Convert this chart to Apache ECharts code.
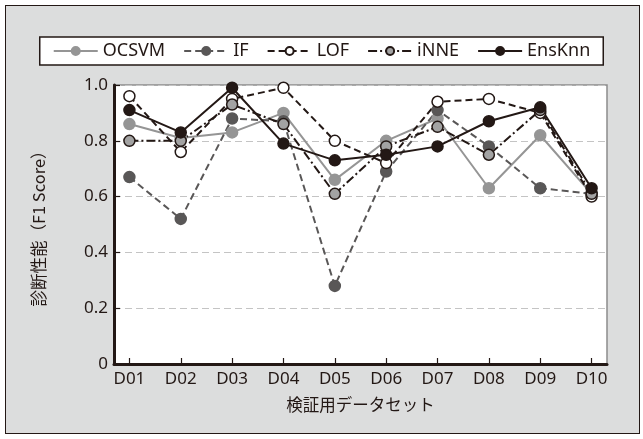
<!DOCTYPE html>
<html>
<head>
<meta charset="utf-8">
<script src="https://cdn.jsdelivr.net/npm/echarts@6/dist/echarts.min.js"></script>
<style>
  html, body { margin: 0; padding: 0; background: #ffffff; }
  .frame {
    position: absolute; left: 5px; top: 5px;
    width: 633px; height: 427px;
    border: 1.5px solid #231815; background: #dcdddd;
  }
  #chart { position: absolute; left: 0; top: 0; width: 643px; height: 439px; }
</style>
</head>
<body>
<div class="frame"></div>
<div id="chart"></div>
<script>
// Datasets on the horizontal axis
const datasets = ['D01', 'D02', 'D03', 'D04', 'D05', 'D06', 'D07', 'D08', 'D09', 'D10'];

// F1 scores per method
const ocsvm  = [0.86, 0.81, 0.83, 0.90, 0.66, 0.80, 0.88, 0.63, 0.82, 0.61];
const iforest = [0.67, 0.52, 0.88, 0.87, 0.28, 0.69, 0.91, 0.78, 0.63, 0.61];
const lof    = [0.96, 0.76, 0.95, 0.99, 0.80, 0.72, 0.94, 0.95, 0.90, 0.60];
const inne   = [0.80, 0.80, 0.93, 0.86, 0.61, 0.78, 0.85, 0.75, 0.91, 0.61];
const ensknn = [0.91, 0.83, 0.99, 0.79, 0.73, 0.75, 0.78, 0.87, 0.92, 0.63];

// Y axis tick values
const yTicks = [0, 0.2, 0.4, 0.6, 0.8, 1.0];

const font = '"Noto Sans", "Noto Sans CJK JP", sans-serif';
const cjkFont = '"Noto Sans CJK JP", "Noto Sans", sans-serif';
const ink = '#231815';
const idx = datasets.map((_, i) => i);
const pairs = vals => vals.map((v, i) => [i, v]);

function makeSeries(name, vals, line, symbolFill, symbolBorder) {
  return {
    name: name,
    type: 'line',
    data: pairs(vals),
    symbol: 'circle',
    symbolSize: 11,
    showAllSymbol: true,
    lineStyle: { color: line.color, width: 2, type: line.type },
    itemStyle: { color: symbolFill, borderColor: symbolBorder, borderWidth: 1.5 },
    emphasis: { disabled: true },
    animation: false
  };
}

const chart = echarts.init(document.getElementById('chart'), null, { renderer: 'canvas' });
chart.setOption({
  backgroundColor: 'transparent',
  textStyle: { fontFamily: font },
  legend: {
    top: 37,
    left: 'center',
    backgroundColor: '#ffffff',
    borderColor: ink,
    borderWidth: 1.5,
    padding: [5, 13],
    itemWidth: 44,
    itemHeight: 10,
    itemGap: 18,
    textStyle: { fontFamily: font, fontSize: 18, color: ink },
    data: ['OCSVM', 'IF', 'LOF', 'iNNE', 'EnsKnn']
  },
  grid: {
    left: 114, right: 36, top: 85, bottom: 75,
    show: true,
    backgroundColor: '#ffffff',
    borderColor: '#8c8c8c',
    borderWidth: 1.5
  },
  xAxis: {
    type: 'value',
    min: -0.3,
    max: 9.3,
    splitLine: { show: false },
    axisLine: { show: true, onZero: false, lineStyle: { color: ink, width: 3 } },
    axisTick: { show: true, inside: true, length: 6, customValues: idx, lineStyle: { color: ink, width: 1.2 } },
    axisLabel: {
      customValues: idx,
      formatter: v => datasets[Math.round(v)],
      fontFamily: font, fontSize: 17, color: ink, margin: 7
    },
    name: '検証用データセット',
    nameLocation: 'middle',
    nameGap: 32,
    nameTextStyle: { fontFamily: cjkFont, fontSize: 16.5, color: ink }
  },
  yAxis: {
    type: 'value',
    min: 0,
    max: 1,
    interval: 0.2,
    axisLine: { show: true, onZero: false, lineStyle: { color: ink, width: 3 } },
    axisTick: { show: true, inside: true, length: 6, lineStyle: { color: ink, width: 1.2 } },
    axisLabel: {
      customValues: yTicks,
      formatter: v => (v === 0 ? '0' : v.toFixed(1)),
      fontFamily: font, fontSize: 17, color: ink, margin: 6
    },
    splitLine: { show: true, lineStyle: { color: '#c4c4c4', width: 1, type: [7, 4] } },
    name: '診断性能（F1 Score）',
    nameLocation: 'middle',
    nameRotate: 90,
    nameGap: 67,
    nameTextStyle: { fontFamily: cjkFont, fontSize: 16.5, color: ink }
  },
  series: [
    makeSeries('OCSVM', ocsvm, { color: '#959595', type: 'solid' }, '#959595', '#959595'),
    makeSeries('IF', iforest, { color: '#595757', type: [7, 4] }, '#595757', '#595757'),
    makeSeries('LOF', lof, { color: ink, type: [7, 4] }, '#ffffff', ink),
    makeSeries('iNNE', inne, { color: ink, type: [9, 3, 2, 3] }, '#a3a3a3', ink),
    makeSeries('EnsKnn', ensknn, { color: ink, type: 'solid' }, ink, ink)
  ]
});
</script>
</body>
</html>
